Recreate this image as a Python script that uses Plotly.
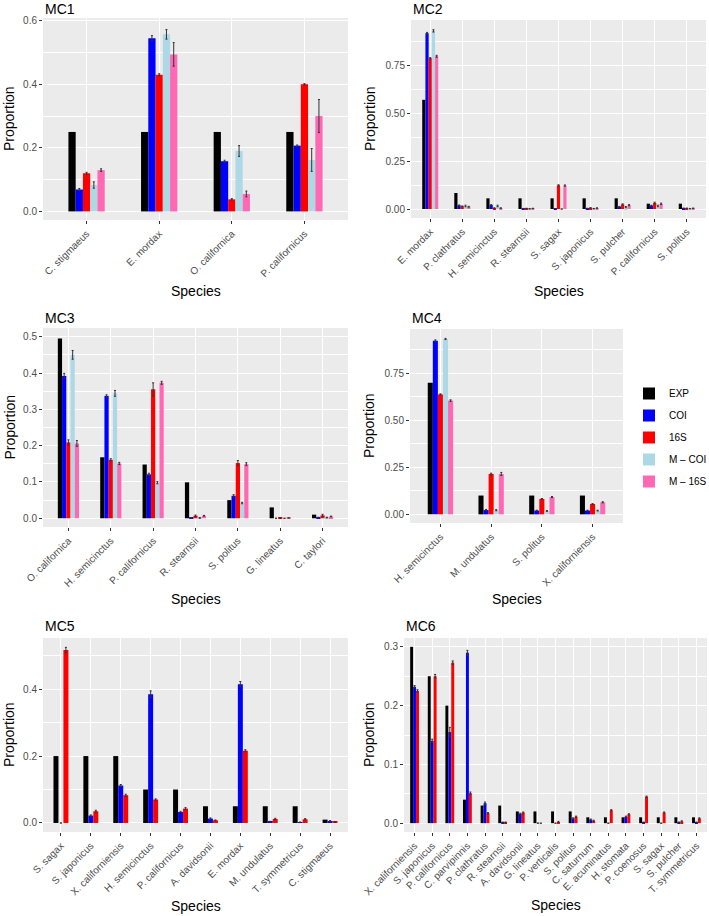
import plotly.graph_objects as go

# séries e cores (como no ggplot original)
series = ['EXP', 'COI', '16S', 'M – COI', 'M – 16S']
cores = ['#000000', '#0000FF', '#FF0000', '#ADD8E6', '#FF69B4']

# MC1
mc1_species = ['C. stigmaeus', 'E. mordax', 'O. californica', 'P. californicus']
mc1_exp = [0.25, 0.25, 0.25, 0.25]
mc1_coi = [0.069, 0.545, 0.158, 0.207]
mc1_16s = [0.120, 0.430, 0.038, 0.400]
mc1_mcoi = [0.083, 0.557, 0.190, 0.162]
mc1_m16s = [0.130, 0.494, 0.055, 0.300]
mc1_coi_err = [0.003, 0.008, 0.003, 0.002]
mc1_16s_err = [0.003, 0.003, 0.002, 0.002]
mc1_mcoi_err = [0.010, 0.015, 0.017, 0.036]
mc1_m16s_err = [0.004, 0.037, 0.009, 0.052]

# MC2
mc2_species = ['E. mordax', 'P. clathratus', 'H. semicinctus', 'R. stearnsii', 'S. sagax',
               'S. japonicus', 'S. pulcher', 'P. californicus', 'S. politus']
mc2_exp = [0.572, 0.084, 0.056, 0.056, 0.056, 0.056, 0.056, 0.028, 0.028]
mc2_coi = [0.921, 0.019, 0.021, 0.002, 0.001, 0.003, 0.012, 0.018, 0.004]
mc2_16s = [0.790, 0.014, 0.005, 0.003, 0.124, 0.006, 0.024, 0.032, 0.004]
mc2_mcoi = [0.933, 0.016, 0.016, 0.001, 0.000, 0.002, 0.010, 0.016, 0.002]
mc2_m16s = [0.800, 0.012, 0.005, 0.003, 0.123, 0.005, 0.020, 0.027, 0.004]
mc2_coi_err = [0.004, 0.002, 0.002, 0.001, 0.001, 0.001, 0.002, 0.002, 0.001]
mc2_16s_err = [0.003, 0.002, 0.001, 0.001, 0.003, 0.001, 0.003, 0.004, 0.001]
mc2_mcoi_err = [0.006, 0.004, 0.004, 0.001, 0.000, 0.001, 0.003, 0.004, 0.001]
mc2_m16s_err = [0.005, 0.002, 0.001, 0.001, 0.003, 0.001, 0.003, 0.004, 0.001]

# MC3
mc3_species = ['O. californica', 'H. semicinctus', 'P. californicus', 'R. stearnsii',
               'S. politus', 'G. lineatus', 'C. taylori']
mc3_exp = [0.495, 0.168, 0.148, 0.099, 0.050, 0.030, 0.010]
mc3_coi = [0.392, 0.337, 0.121, 0.001, 0.062, 0.000, 0.002]
mc3_16s = [0.209, 0.161, 0.355, 0.007, 0.152, 0.001, 0.008]
mc3_mcoi = [0.450, 0.344, 0.098, 0.001, 0.042, 0.000, 0.002]
mc3_m16s = [0.206, 0.151, 0.373, 0.007, 0.149, 0.001, 0.005]
mc3_coi_err = [0.007, 0.003, 0.003, 0.001, 0.003, 0.000, 0.001]
mc3_16s_err = [0.007, 0.003, 0.018, 0.002, 0.007, 0.000, 0.003]
mc3_mcoi_err = [0.012, 0.008, 0.003, 0.001, 0.002, 0.000, 0.001]
mc3_m16s_err = [0.008, 0.003, 0.004, 0.001, 0.004, 0.000, 0.001]

# MC4
mc4_species = ['H. semicinctus', 'M. undulatus', 'S. politus', 'X. californiensis']
mc4_exp = [0.70, 0.10, 0.10, 0.10]
mc4_coi = [0.924, 0.023, 0.020, 0.020]
mc4_16s = [0.638, 0.215, 0.082, 0.055]
mc4_mcoi = [0.933, 0.022, 0.018, 0.020]
mc4_m16s = [0.605, 0.215, 0.092, 0.064]
mc4_coi_err = [0.004, 0.003, 0.002, 0.002]
mc4_16s_err = [0.003, 0.004, 0.002, 0.002]
mc4_mcoi_err = [0.003, 0.003, 0.002, 0.002]
mc4_m16s_err = [0.004, 0.008, 0.003, 0.003]

# MC5
mc5_species = ['S. sagax', 'S. japonicus', 'X. californiensis', 'H. semicinctus',
               'P. californicus', 'A. davidsonii', 'E. mordax', 'M. undulatus',
               'T. symmetricus', 'C. stigmaeus']
mc5_exp = [0.20, 0.20, 0.20, 0.10, 0.10, 0.05, 0.05, 0.05, 0.05, 0.01]
mc5_coi = [0.000, 0.022, 0.112, 0.385, 0.033, 0.013, 0.415, 0.004, 0.002, 0.006]
mc5_16s = [0.517, 0.035, 0.083, 0.070, 0.043, 0.008, 0.216, 0.012, 0.011, 0.003]
mc5_coi_err = [0.000, 0.002, 0.003, 0.010, 0.002, 0.002, 0.008, 0.001, 0.001, 0.001]
mc5_16s_err = [0.008, 0.003, 0.003, 0.002, 0.003, 0.001, 0.003, 0.002, 0.002, 0.001]

# MC6
mc6_species = ['X. californiensis', 'S. japonicus', 'P. californicus', 'C. parvipinnis',
               'P. clathratus', 'R. stearnsii', 'A. davidsonii', 'G. lineatus',
               'P. verticalis', 'S. politus', 'C. saturnum', 'E. acuminatus',
               'H. stomata', 'P. coenosus', 'S. sagax', 'S. pulcher', 'T. symmetricus']
mc6_exp = [0.30, 0.25, 0.20, 0.04, 0.03, 0.03, 0.02, 0.02, 0.02, 0.02,
           0.01, 0.01, 0.01, 0.01, 0.01, 0.01, 0.01]
mc6_coi = [0.232, 0.140, 0.155, 0.290, 0.034, 0.001, 0.016, 0.000, 0.000, 0.008,
           0.006, 0.000, 0.011, 0.001, 0.000, 0.001, 0.001]
mc6_16s = [0.225, 0.250, 0.273, 0.051, 0.017, 0.001, 0.018, 0.000, 0.002, 0.011,
           0.004, 0.022, 0.015, 0.045, 0.018, 0.003, 0.008]
mc6_coi_err = [0.002, 0.003, 0.008, 0.004, 0.002, 0.001, 0.001, 0.000, 0.000, 0.001,
               0.001, 0.000, 0.001, 0.001, 0.000, 0.001, 0.001]
mc6_16s_err = [0.002, 0.003, 0.003, 0.002, 0.001, 0.001, 0.001, 0.000, 0.001, 0.001,
               0.001, 0.001, 0.001, 0.001, 0.001, 0.001, 0.001]

W, H = 709, 916

# painéis: (título, espécies, valores, erros, caixa em pixels x0,x1,y0,y1, faixa y, passo, formato)
paineis = [
    ('MC1', mc1_species, [mc1_exp, mc1_coi, mc1_16s, mc1_mcoi, mc1_m16s],
     [None, mc1_coi_err, mc1_16s_err, mc1_mcoi_err, mc1_m16s_err],
     (43, 348, 18, 220), [-0.027, 0.6085], 0.2, '.1f'),
    ('MC2', mc2_species, [mc2_exp, mc2_coi, mc2_16s, mc2_mcoi, mc2_m16s],
     [None, mc2_coi_err, mc2_16s_err, mc2_mcoi_err, mc2_m16s_err],
     (411, 706, 20, 218), [-0.047, 0.99], 0.25, '.2f'),
    ('MC3', mc3_species, [mc3_exp, mc3_coi, mc3_16s, mc3_mcoi, mc3_m16s],
     [None, mc3_coi_err, mc3_16s_err, mc3_mcoi_err, mc3_m16s_err],
     (43, 348, 328, 527), [-0.024, 0.524], 0.1, '.1f'),
    ('MC4', mc4_species, [mc4_exp, mc4_coi, mc4_16s, mc4_mcoi, mc4_m16s],
     [None, mc4_coi_err, mc4_16s_err, mc4_mcoi_err, mc4_m16s_err],
     (410, 623, 329, 523), [-0.046, 0.986], 0.25, '.2f'),
    ('MC5', mc5_species, [mc5_exp, mc5_coi, mc5_16s],
     [None, mc5_coi_err, mc5_16s_err],
     (43, 348, 638, 832), [-0.027, 0.553], 0.2, '.1f'),
    ('MC6', mc6_species, [mc6_exp, mc6_coi, mc6_16s],
     [None, mc6_coi_err, mc6_16s_err],
     (404, 707, 638, 832), [-0.015, 0.315], 0.1, '.1f'),
]

# posições dos rótulos (pixels): y do título do painel e y do "Species", x do "Proportion"
titulo_y = [8.5, 9, 318, 317.5, 626, 626]
species_y = [291, 291, 599, 599, 906, 905]
prop_x = [9, 370, 9, 369, 9, 369]

fonte = 'Liberation Sans, Arial, Helvetica, sans-serif'
fig = go.Figure()
anotacoes = []

for i, (nome, especies, valores, erros, caixa, faixa, passo, fmt) in enumerate(paineis):
    n = i + 1
    xa = 'x' if n == 1 else 'x%d' % n
    ya = 'y' if n == 1 else 'y%d' % n
    for k, vals in enumerate(valores):
        err = erros[k]
        fig.add_trace(go.Bar(
            x=especies, y=vals, name=series[k], marker_color=cores[k],
            marker_line_width=0, xaxis=xa, yaxis=ya,
            legendgroup=series[k], showlegend=(n == 1),
            error_y=dict(type='data', array=err, visible=err is not None,
                         color='#333333', thickness=1, width=1)))
    x0, x1, y0, y1 = caixa
    eixo_x = dict(domain=[x0 / W, x1 / W], anchor=ya, type='category',
                  range=[-0.6, len(especies) - 0.4], tickangle=-45, automargin=False,
                  showgrid=True, gridcolor='white', gridwidth=1,
                  ticks='outside', ticklen=3, tickcolor='#333333',
                  tickfont=dict(size=10, color='#4D4D4D', family=fonte),
                  showline=False, zeroline=False)
    eixo_y = dict(domain=[1 - y1 / H, 1 - y0 / H], anchor=xa, range=faixa, automargin=False,
                  tick0=0, dtick=passo, tickformat=fmt,
                  showgrid=True, gridcolor='white', gridwidth=1,
                  minor=dict(dtick=passo / 2, tick0=0, showgrid=True,
                             gridcolor='white', gridwidth=0.5),
                  ticks='outside', ticklen=3, tickcolor='#333333',
                  tickfont=dict(size=10, color='#4D4D4D', family=fonte),
                  showline=False, zeroline=False)
    fig.update_layout({('xaxis' if n == 1 else 'xaxis%d' % n): eixo_x,
                       ('yaxis' if n == 1 else 'yaxis%d' % n): eixo_y})

    # título do painel, eixo x e eixo y
    anotacoes.append(dict(text=nome, x=x0 / W, y=1 - titulo_y[i] / H, xref='paper', yref='paper',
                          xanchor='left', yanchor='middle', showarrow=False,
                          font=dict(size=14, color='black', family=fonte)))
    anotacoes.append(dict(text='Species', x=(x0 + x1) / 2 / W, y=1 - species_y[i] / H,
                          xref='paper', yref='paper', xanchor='center', yanchor='middle',
                          showarrow=False, font=dict(size=14, color='black', family=fonte)))
    anotacoes.append(dict(text='Proportion', x=prop_x[i] / W, y=1 - (y0 + y1) / 2 / H,
                          xref='paper', yref='paper', xanchor='center', yanchor='middle',
                          textangle=-90, showarrow=False,
                          font=dict(size=14, color='black', family=fonte)))

    # fundo cinza do painel (estilo ggplot)
    fig.add_shape(type='rect', xref='paper', yref='paper', layer='below',
                  x0=x0 / W, x1=x1 / W, y0=1 - y1 / H, y1=1 - y0 / H,
                  fillcolor='#EBEBEB', line_width=0)

fig.update_layout(
    width=W, height=H, margin=dict(l=0, r=0, t=0, b=0, autoexpand=False),
    barmode='group', bargap=0.5, bargroupgap=0,
    paper_bgcolor='white', plot_bgcolor='#EBEBEB',
    annotations=anotacoes,
    legend=dict(x=629 / W, y=1 - 379 / H, xanchor='left', yanchor='top',
                font=dict(size=10, color='black', family=fonte),
                bgcolor='rgba(0,0,0,0)', itemwidth=30, tracegroupgap=3),
    font=dict(family=fonte),
)

# tira a margem padrão do <body> para a figura ocupar a janela toda
fig.write_html('out.html', config={'displayModeBar': False},
               post_script="document.body.style.margin='0';document.body.style.overflow='hidden';")
